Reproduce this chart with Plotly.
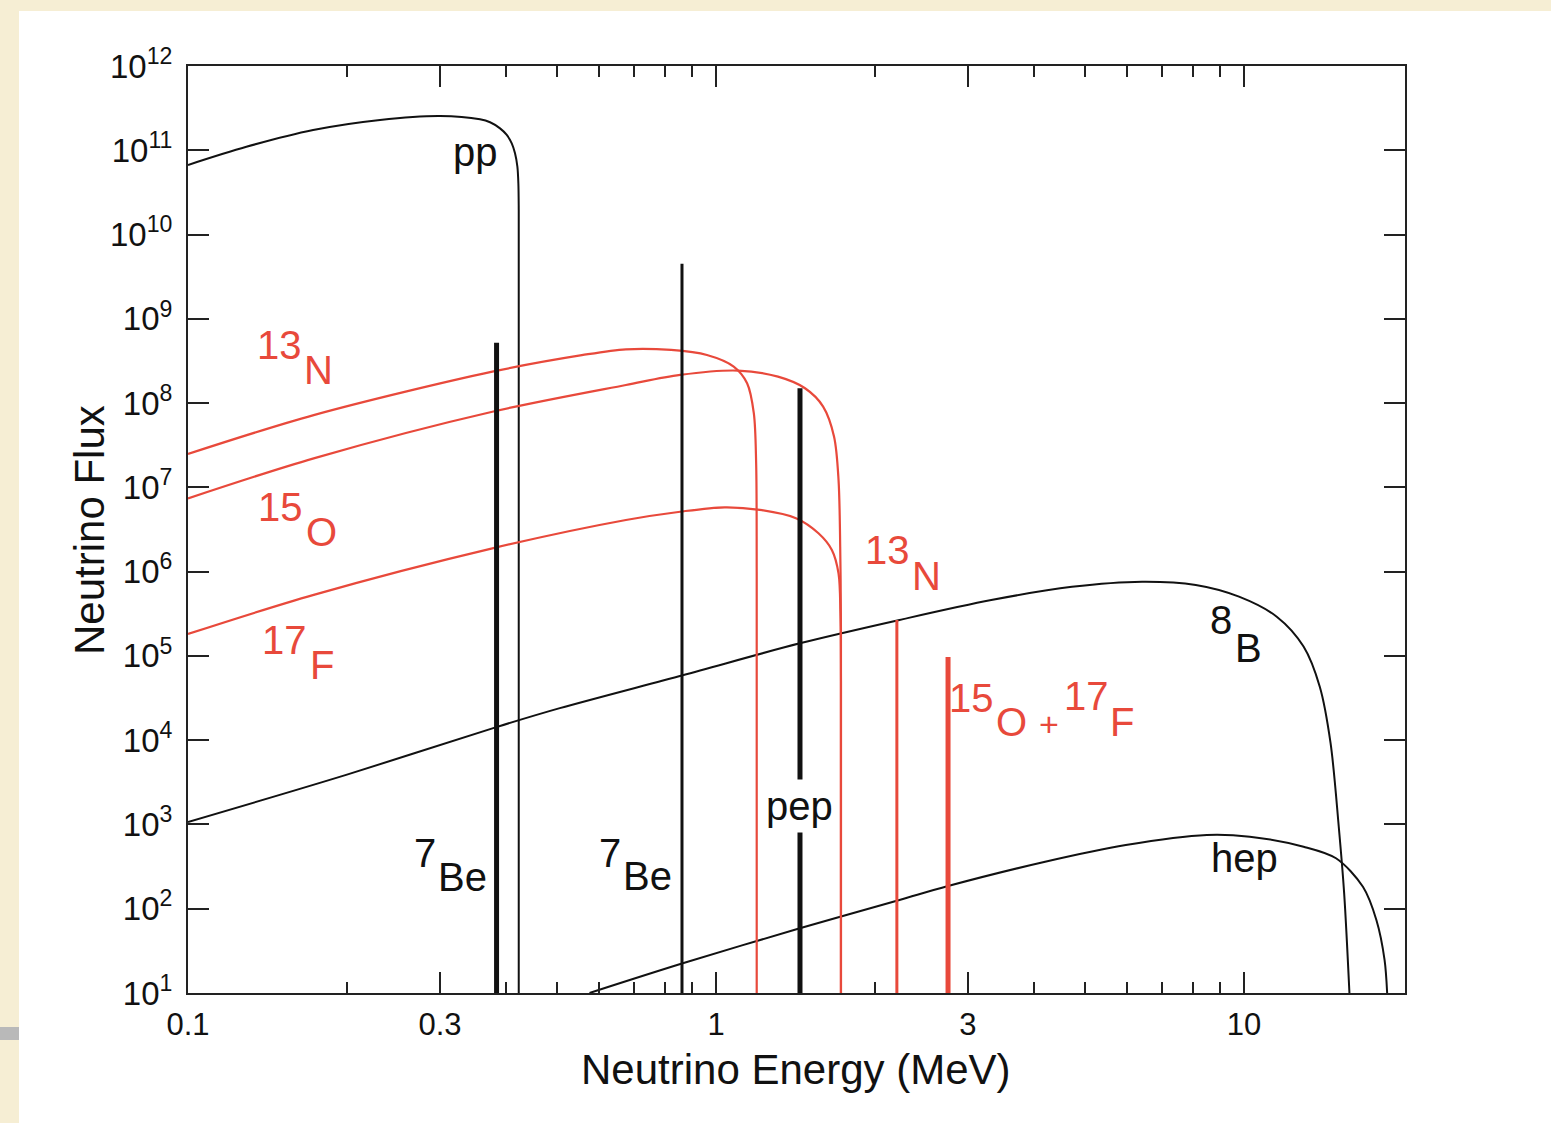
import plotly.graph_objects as go
import numpy as np

# ---------------- data ----------------
# continuous spectra: energy (MeV) and flux
pp_E = [0.1, 0.129, 0.1726, 0.231, 0.300, 0.3573, 0.3733, 0.3899, 0.4015, 0.4103,
        0.4162, 0.4205, 0.4223, 0.423, 0.423]
pp_F = [6.7e10, 1.10e11, 1.74e11, 2.29e11, 2.55e11, 2.33e11, 2.15e11, 1.82e11, 1.52e11,
        1.21e11, 9.2e10, 6.4e10, 4.06e10, 1.96e10, 1]

N13_E = [0.1, 0.173, 0.377, 0.557, 0.675, 0.822, 0.961, 1.080, 1.145, 1.179, 1.191, 1.194, 1.194]
N13_F = [2.49e7, 7.2e7, 2.36e8, 3.7e8, 4.35e8, 4.27e8, 3.72e8, 2.71e8, 1.72e8, 7.6e7,
         1.95e7, 1.0e6, 1]

O15_E = [0.1, 0.173, 0.377, 0.675, 0.855, 1.10, 1.31, 1.474, 1.595, 1.673, 1.706, 1.72,
         1.724, 1.724]
O15_F = [7.4e6, 2.21e7, 7.9e7, 1.64e8, 2.16e8, 2.43e8, 2.06e8, 1.50e8, 9.1e7, 4.0e7,
         1.22e7, 1.26e6, 2e5, 1]

F17_E = [0.1, 0.173, 0.377, 0.675, 0.855, 1.038, 1.211, 1.417, 1.563, 1.657, 1.706, 1.72,
         1.724, 1.724]
F17_F = [1.82e5, 5.3e5, 1.89e6, 4.1e6, 5.14e6, 5.8e6, 5.4e6, 4.3e6, 2.85e6, 1.81e6,
         9.5e5, 3.2e5, 5e4, 1]

B8_E = [0.1, 0.2, 0.385, 0.506, 0.865, 1.441, 2.225, 3.32, 4.72, 6.41, 8.10, 9.78,
        11.53, 12.96, 13.91, 14.58, 15.11, 15.47, 15.83]
B8_F = [1.07e3, 3.9e3, 1.44e4, 2.4e4, 5.9e4, 1.41e5, 2.67e5, 4.6e5, 6.6e5, 7.6e5, 6.95e5,
        5.05e5, 2.92e5, 1.29e5, 4.3e4, 9.2e3, 940, 152, 10]

hep_E = [0.576, 0.865, 1.441, 2.225, 2.75, 4.20, 5.97, 8.50, 10.25, 12.96, 14.93, 16.79,
         17.81, 18.45, 18.66]
hep_F = [10, 22.5, 58.6, 127, 186, 361, 570, 750, 716, 545, 397, 182, 73, 24.7, 10]

# line spectra: energy and flux at the top of the line
line_names = ["7Be", "7Be", "pep", "13N", "15O+17F"]
line_E = [0.384, 0.862, 1.442, 2.20, 2.75]
line_F = [5.2e8, 4.5e9, 1.5e8, 2.67e5, 9.7e4]
line_kind = ["black", "black", "black", "red", "red"]
line_width = [5, 3, 5, 3, 5]
FLOOR = 10  # bottom of the y axis

# axis ticks
x_major = [0.1, 0.3, 1, 3, 10]
x_major_text = ["0.1", "0.3", "1", "3", "10"]
x_minor = [0.2, 0.4, 0.5, 0.6, 0.7, 0.8, 0.9, 2, 4, 5, 6, 7, 8, 9]
y_exponents = list(range(1, 13))

# ---------------- styling ----------------
RED = "#e8493b"
BLACK = "#111111"
FONT = "Liberation Sans, Arial, Helvetica, sans-serif"
BEIGE = "#f6eed4"

fig = go.Figure()


def curve(x, y, color, width, smooth=True):
    fig.add_trace(go.Scatter(x=x, y=y, mode="lines",
                             line=dict(color=color, width=width,
                                       shape="spline" if smooth else "linear",
                                       smoothing=0.9),
                             hoverinfo="skip", showlegend=False))


curve(pp_E, pp_F, BLACK, 2)
curve(B8_E, B8_F, BLACK, 2)
curve(hep_E, hep_F, BLACK, 2)
curve(N13_E, N13_F, RED, 2.2)
curve(O15_E, O15_F, RED, 2.2)
curve(F17_E, F17_F, RED, 2.2)

for e, f, k, w in zip(line_E, line_F, line_kind, line_width):
    curve([e, e], [FLOOR, f], BLACK if k == "black" else RED, w, smooth=False)

# ---------------- labels ----------------
ann = []


def label(text, e, logf, color, size=40, bg=None):
    d = dict(x=np.log10(e), y=logf, xref="x", yref="y", text=text, showarrow=False,
             font=dict(family=FONT, size=size, color=color),
             xanchor="center", yanchor="middle")
    if bg:
        d["bgcolor"] = bg
        d["borderpad"] = 4
    ann.append(d)


label("pp", 0.351, 10.98, BLACK)
label("13", 0.1493, 8.69, RED); label("N", 0.177, 8.393, RED)
label("15", 0.15, 6.767, RED); label("O", 0.1786, 6.47, RED)
label("17", 0.152, 5.189, RED); label("F", 0.1794, 4.892, RED)
label("13", 2.108, 6.257, RED); label("N", 2.499, 5.948, RED)
label("8", 9.05, 5.426, BLACK); label("B", 10.18, 5.094, BLACK)
label("15", 3.04, 4.5, RED); label("O", 3.62, 4.216, RED)
label("+", 4.27, 4.192, RED, 34); label("17", 5.04, 4.524, RED); label("F", 5.87, 4.216, RED)
label("pep", 1.436, 3.219, BLACK, bg="white")
label("hep", 10.0, 2.602, BLACK)
label("7", 0.2812, 2.661, BLACK); label("Be", 0.3304, 2.377, BLACK)
label("7", 0.63, 2.661, BLACK); label("Be", 0.74, 2.388, BLACK)

# ---------------- layout ----------------
L, R, T, B = 188, 1405, 66, 993
W, H = 1551, 1123
pw, ph = R - L, B - T


def px(xp):
    return (xp - L) / pw


def py(yp):
    return (B - yp) / ph


# axis titles placed as paper annotations
ann.append(dict(x=px(796), y=py(1069), xref="paper", yref="paper",
                text="Neutrino Energy (MeV)", showarrow=False,
                font=dict(family=FONT, size=42, color=BLACK),
                xanchor="center", yanchor="middle"))
ann.append(dict(x=px(89), y=py(530), xref="paper", yref="paper",
                text="Neutrino Flux", showarrow=False, textangle=-90,
                font=dict(family=FONT, size=42, color=BLACK),
                xanchor="center", yanchor="middle"))

shapes = [
    dict(type="rect", xref="paper", yref="paper", x0=px(19), x1=px(W + 5), y0=py(H + 5),
         y1=py(11), fillcolor="white", line=dict(width=0), layer="below"),
    dict(type="rect", xref="paper", yref="paper", x0=px(-5), x1=px(19), y0=py(1040),
         y1=py(1027), fillcolor="#b9b9b9", line=dict(width=0), layer="below"),
]

axis_common = dict(showline=True, linecolor="#222", linewidth=2, mirror="ticks",
                   ticks="inside", tickcolor="#222", tickwidth=2, showgrid=False,
                   zeroline=False)

fig.update_layout(
    width=W, height=H,
    margin=dict(l=L, r=W - R, t=T, b=H - B, pad=0),
    paper_bgcolor=BEIGE, plot_bgcolor="white",
    shapes=shapes, annotations=ann,
    xaxis=dict(type="log", range=[-1, np.log10(20.17)],
               tickvals=x_major, ticktext=x_major_text, ticklen=21,
               ticklabelstandoff=3,
               tickfont=dict(family=FONT, size=31, color=BLACK),
               minor=dict(tickvals=x_minor, ticklen=11, ticks="inside",
                          tickcolor="#222", tickwidth=2, showgrid=False),
               **axis_common),
    yaxis=dict(type="log", range=[1, 12],
               tickvals=[10.0 ** k for k in y_exponents],
               ticktext=["10<sup>%d</sup>" % k for k in y_exponents], ticklen=21,
               ticklabelstandoff=7,
               tickfont=dict(family=FONT, size=33, color=BLACK),
               **axis_common),
)

fig.write_html("out.html", config={"displayModeBar": False},
               post_script="document.body.style.margin='0';document.body.style.overflow='hidden';")
